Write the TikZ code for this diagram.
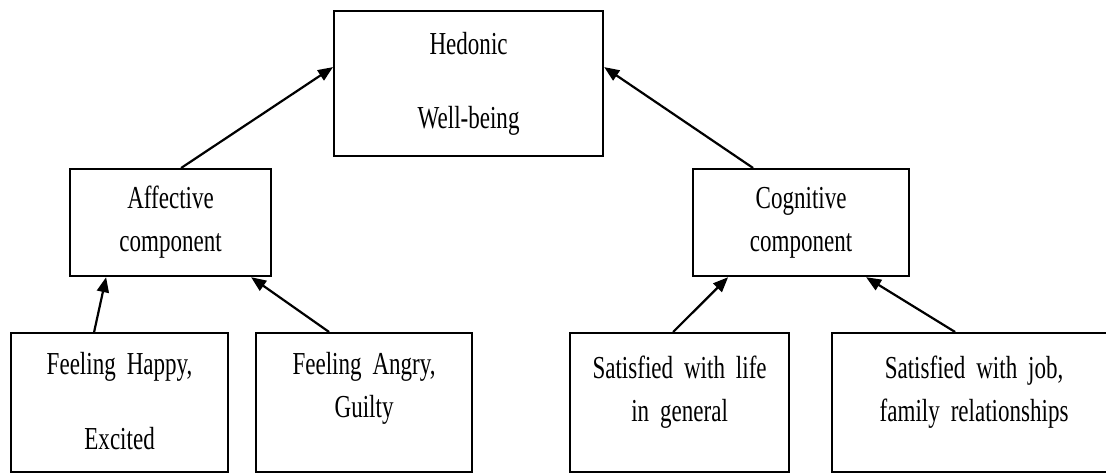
\documentclass[tikz,border=0pt]{standalone}
\usepackage{fontspec}
\setmainfont{Liberation Serif}[FakeStretch=0.72,WordSpace=1.9]
\usetikzlibrary{arrows.meta}

\begin{document}
\begin{tikzpicture}[x=0.5pt,y=-0.5pt,
  box/.style={draw,line width=1.1pt,inner sep=0pt,align=flush center,anchor=north west,
    font=\fontsize{16}{21.5}\selectfont},
  leaf/.style 2 args={box,minimum height=69.5pt,text height=#1,text depth=#2},
  up/.style={-{Triangle[length=7.5pt,width=6pt]},line width=1.1pt}]
  \useasboundingbox (0,0) rectangle (1106,472);
  \clip (0,0) rectangle (1106,472);
  \node [box,text width=134.5pt,minimum height=72.5pt] (hed) at (333,10) {Hedonic\\[15.5pt]Well-being};
  \node [box,text width=100.5pt,minimum height=53.5pt] (aff) at (69,168) {Affective\\component};
  \node [box,text width=108pt,minimum height=53.5pt] (cog) at (692,168) {Cognitive\\component};
  \node [leaf={20.5pt}{49pt},text width=108.5pt] (happy) at (10,332) {Feeling Happy,\\[16pt]Excited};
  \node [leaf={20.5pt}{49pt},text width=108pt] (angry) at (255,332) {Feeling Angry,\\Guilty};
  \node [leaf={22.5pt}{47pt},text width=109.5pt] (life) at (569,332) {Satisfied with life\\in general};
  \node [leaf={22.5pt}{47pt},text width=142pt] (job) at (831,332) {Satisfied with job,\hspace*{17pt}\\family relationships\hspace*{17pt}};
  \draw [up] ([xshift=5.25pt]aff.north) -- ([yshift=8.25pt]hed.west);
  \draw [up] ([xshift=-24pt]cog.north) -- ([yshift=8.25pt]hed.east);
  \draw [up] ([xshift=-12.75pt]happy.north) -- ([xshift=-32.25pt]aff.south);
  \draw [up] ([xshift=-17.5pt]angry.north) -- ([xshift=40.25pt]aff.south);
  \draw [up] ([xshift=-3.25pt]life.north) -- ([xshift=-36.5pt]cog.south);
  \draw [up] ([xshift=-9.5pt]job.north) -- ([xshift=32.5pt]cog.south);
\end{tikzpicture}
\end{document}
